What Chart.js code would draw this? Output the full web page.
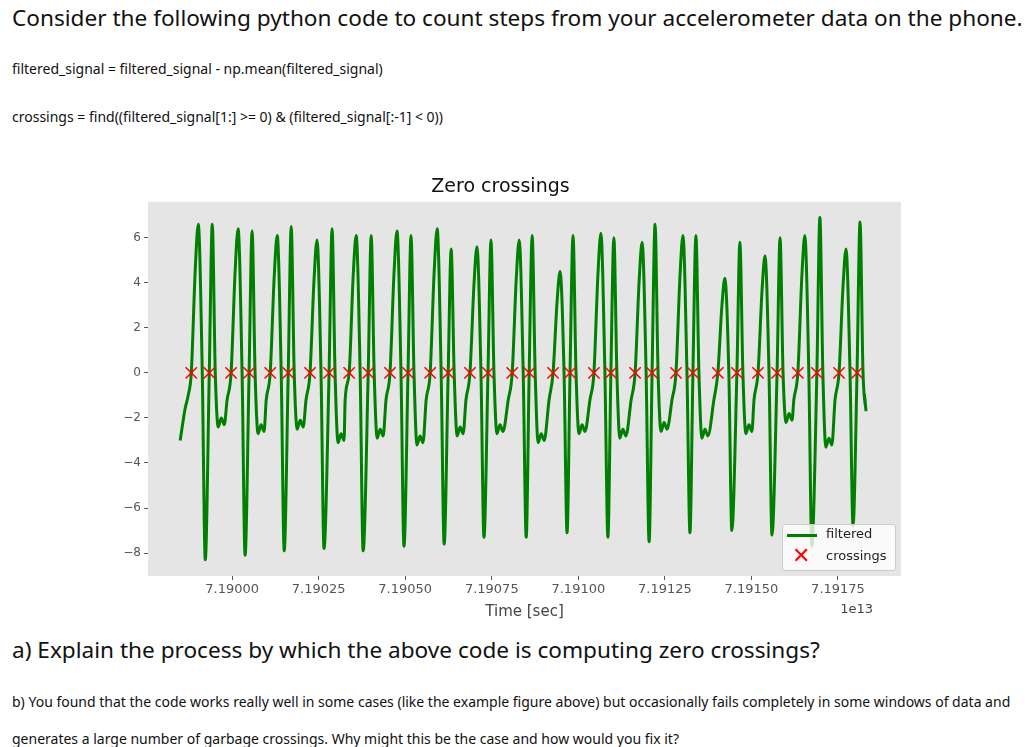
<!DOCTYPE html>
<html>
<head>
<meta charset="utf-8">
<script src="https://cdn.jsdelivr.net/npm/chart.js@4.4.1/dist/chart.umd.min.js"></script>
<style>
  body { margin: 0; background: #fff; font-family: "Noto Sans", sans-serif; color: #111; }
  .t { position: absolute; white-space: nowrap; }
  .big { font-size: 22.6px; }
  .small { font-size: 14px; }
  #wrap { position: absolute; left: 100px; top: 170px; width: 820px; height: 455px; }
  #legend { position: absolute; left: 782px; top: 524px; width: 112px; height: 45px;
            background: rgba(255,255,255,0.8); border: 1px solid #ccc; border-radius: 3px;
            font-family: "DejaVu Sans", sans-serif; font-size: 13px; color: #222; }
</style>
</head>
<body>
<div class="t big" style="left:12px;top:2px;">Consider the following python code to count steps from your accelerometer data on the phone.</div>
<div class="t small" style="left:12px;top:59px;">filtered_signal = filtered_signal - np.mean(filtered_signal)</div>
<div class="t small" style="left:12px;top:107px;">crossings = find((filtered_signal[1:] &gt;= 0) &amp; (filtered_signal[:-1] &lt; 0))</div>

<div id="wrap"><canvas id="grafico"></canvas></div>
<div id="legend">
  <div style="position:absolute;left:4px;top:9px;width:30px;height:3px;background:#008000;"></div>
  <div style="position:absolute;left:43px;top:1px;">filtered</div>
  <div style="position:absolute;left:9px;top:20px;color:#f00;font-size:22px;line-height:22px;">✕</div>
  <div style="position:absolute;left:43px;top:23px;">crossings</div>
</div>

<div class="t big" style="left:12px;top:634px;">a) Explain the process by which the above code is computing zero crossings?</div>
<div class="t small" style="left:12px;top:692px;">b) You found that the code works really well in some cases (like the example figure above) but occasionally fails completely in some windows of data and</div>
<div class="t small" style="left:12px;top:729px;">generates a large number of garbage crossings. Why might this be the case and how would you fix it?</div>

<script>
// tiempos de cruce (x 1e13 s)
const crucesA = [7.189882, 7.189997, 7.190110, 7.190225, 7.190338, 7.190456, 7.190572, 7.190687, 7.190809,
                 7.190927, 7.191045, 7.191164, 7.191282, 7.191403, 7.191519, 7.191634, 7.191753];
const crucesB = [7.189934, 7.190049, 7.190162, 7.190280, 7.190393, 7.190508, 7.190624, 7.190739, 7.190858,
                 7.190976, 7.191094, 7.191213, 7.191331, 7.191458, 7.191574, 7.191689, 7.191805];
const pico1  = [6.6, 6.4, 6.1, 5.9, 6.1, 6.3, 6.4, 5.6, 5.9, 4.5, 6.2, 5.8, 6.1, 4.2, 5.2, 6.1, 5.5];
const valle1 = [-8.3, -8.1, -7.9, -7.8, -7.9, -7.7, -7.6, -7.3, -7.3, -7.1, -7.3, -7.5, -7.1, -7.0, -7.2, -7.7, -6.8];
const pico2  = [6.6, 6.3, 6.5, 6.4, 6.1, 6.1, 5.5, 5.9, 6.1, 6.1, 6.0, 6.6, 6.1, 5.8, 6.0, 6.9, 6.7];
const valle2 = [-2.4, -2.7, -2.5, -3.1, -2.9, -3.2, -2.8, -2.7, -3.1, -2.7, -2.9, -2.6, -2.9, -2.7, -2.2, -3.3, -1.7];
const inicio = [[7.189850, -3.0], [7.189864, -1.6], [7.189873, -1.0]];
const final  = [[7.191826, -1.0], [7.191831, -1.0]];
const yTicks = [-8, -6, -4, -2, 0, 2, 4, 6];

const px = 0.001 / 346.3;  // una unidad de pixel en el eje x
const senal = inicio.map(p => ({x: p[0], y: p[1]}));
for (let i = 0; i < crucesA.length; i++) {
    const a = crucesA[i], b = crucesB[i];
    senal.push({x: a, y: 0});
    senal.push({x: a + 4 * px, y: pico1[i] * 0.7});
    senal.push({x: a + 7 * px, y: pico1[i]});
    senal.push({x: a + 11 * px, y: 0});
    senal.push({x: a + 14 * px, y: valle1[i]});
    senal.push({x: b, y: 0});
    senal.push({x: b + 3 * px, y: pico2[i]});
    senal.push({x: b + 6 * px, y: 0});
    senal.push({x: b + 9 * px, y: valle2[i]});
    if (i < crucesA.length - 1) {
        senal.push({x: b + 12 * px, y: valle2[i] + 0.4});
        senal.push({x: b + 15 * px, y: valle2[i] + 0.1});
        senal.push({x: crucesA[i + 1] - 4 * px, y: -1.2});
    }
}
final.forEach(p => senal.push({x: p[0], y: p[1]}));
const cruces = crucesA.concat(crucesB).sort().map(t => ({x: t, y: 0}));

const marca = {
    id: 'marca',
    afterDraw(chart) {
        const c = chart.ctx;
        c.save();
        c.fillStyle = '#444';
        c.font = '13px "DejaVu Sans"';
        c.textAlign = 'right';
        c.fillText('1e13', 773, 443);
        c.restore();
    }
};
const fondo = {
    id: 'fondo',
    beforeDraw(chart) {
        const a = chart.chartArea, c = chart.ctx;
        c.save();
        c.fillStyle = '#e5e5e5';
        c.fillRect(a.left, a.top, a.right - a.left, a.bottom - a.top);
        c.restore();
    }
};

document.addEventListener('DOMContentLoaded', function () {
    const ctx = document.getElementById('grafico').getContext('2d');
    new Chart(ctx, {
        type: 'line',
        data: {
            datasets: [{
                label: 'filtered',
                data: senal,
                borderColor: '#008000',
                borderWidth: 3,
                pointRadius: 0,
                cubicInterpolationMode: 'monotone',
                order: 2
            }, {
                label: 'crossings',
                data: cruces,
                showLine: false,
                pointStyle: 'crossRot',
                pointRadius: 8,
                borderColor: '#ff0000',
                borderWidth: 1.5,
                order: 1
            }]
        },
        plugins: [fondo, marca],
        options: {
            animation: false,
            responsive: true,
            maintainAspectRatio: false,
            layout: { padding: { right: 19, top: 0 } },
            scales: {
                x: {
                    type: 'linear',
                    min: 7.189757,
                    max: 7.191932,
                    afterFit: s => { s.height = 49; },
                    afterBuildTicks: s => {
                        s.ticks = [7.19, 7.19025, 7.1905, 7.19075, 7.191, 7.19125, 7.1915, 7.19175].map(v => ({value: v}));
                    },
                    ticks: {
                        color: '#555',
                        font: { family: 'DejaVu Sans', size: 13 },
                        maxRotation: 0,
                        padding: 2,
                        callback: v => v.toFixed(5)
                    },
                    grid: { drawOnChartArea: false, tickLength: 4, color: '#555' },
                    border: { display: false },
                    title: {
                        display: true, text: 'Time [sec]', color: '#444',
                        font: { family: 'DejaVu Sans', size: 15 }, padding: { top: 0 }
                    }
                },
                y: {
                    min: -9.02,
                    max: 7.6,
                    afterFit: s => { s.width = 48; },
                    afterBuildTicks: s => { s.ticks = yTicks.map(v => ({value: v})); },
                    ticks: {
                        color: '#555',
                        font: { family: 'DejaVu Sans', size: 12 },
                        padding: 3,
                        callback: v => String(v).replace('-', '\u2212')
                    },
                    grid: { drawOnChartArea: false, tickLength: 4, color: '#555' },
                    border: { display: false }
                }
            },
            plugins: {
                legend: { display: false },
                tooltip: { enabled: false },
                title: {
                    display: true,
                    text: 'Zero crossings',
                    color: '#111',
                    font: { family: 'DejaVu Sans', size: 19, weight: 'normal' },
                    padding: { top: 6, bottom: 3 }
                }
            }
        }
    });
});
</script>
</body>
</html>
